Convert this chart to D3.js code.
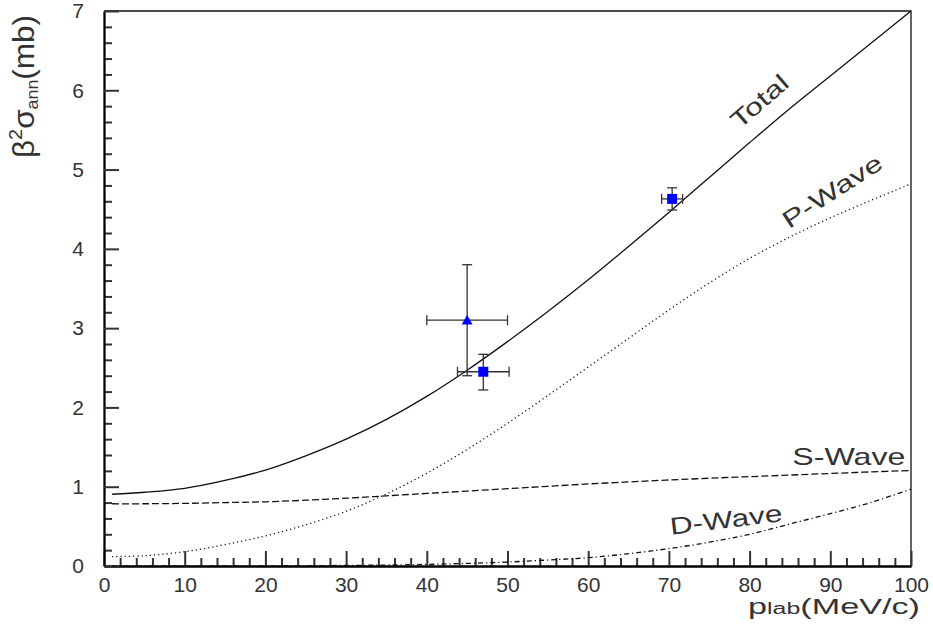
<!DOCTYPE html>
<html>
<head>
<meta charset="utf-8">
<script src="https://cdn.jsdelivr.net/npm/d3@7"></script>
<style>
  html, body { margin: 0; padding: 0; background: #fff; }
  svg { display: block; }
  text { font-family: "Liberation Sans", Arial, sans-serif; fill: #333; }
</style>
</head>
<body>
<svg id="chart" width="933" height="630"></svg>
<script>
const pLab = [1, 5, 10, 15, 20, 25, 30, 35, 40, 45, 50, 55, 60, 65, 70, 75, 80, 85, 90, 95, 100];

// beta^2 * sigma_ann (mb)
const total = [0.905, 0.93, 0.98, 1.08, 1.21, 1.39, 1.60, 1.85, 2.14, 2.47, 2.83, 3.21, 3.61, 4.03, 4.46, 4.90, 5.34, 5.77, 6.18, 6.59, 7.0];
const sWave = [0.785, 0.785, 0.79, 0.80, 0.81, 0.83, 0.855, 0.885, 0.915, 0.945, 0.975, 1.005, 1.035, 1.06, 1.085, 1.107, 1.127, 1.147, 1.167, 1.187, 1.205];
const pWave = [0.118, 0.13, 0.18, 0.27, 0.38, 0.52, 0.69, 0.91, 1.17, 1.47, 1.80, 2.15, 2.51, 2.87, 3.23, 3.57, 3.88, 4.15, 4.39, 4.61, 4.82];
const dWave = [0, 0, 0, 0.001, 0.002, 0.004, 0.007, 0.012, 0.02, 0.033, 0.05, 0.075, 0.105, 0.155, 0.22, 0.30, 0.40, 0.53, 0.66, 0.80, 0.97];

// measurements with errors
const squarePoints = [
  { x: 47, y: 2.45, xLo: 43.8, xHi: 50.2, yLo: 2.22, yHi: 2.67 },
  { x: 70.4, y: 4.63, xLo: 69.1, xHi: 71.7, yLo: 4.49, yHi: 4.77 },
];
const trianglePoints = [
  { x: 45, y: 3.1, xLo: 40, xHi: 50, yLo: 2.4, yHi: 3.8 },
];

// axis ticks
const xMajorTicks = [0, 10, 20, 30, 40, 50, 60, 70, 80, 90, 100];
const yMajorTicks = [0, 1, 2, 3, 4, 5, 6, 7];

const width = 933;
const height = 630;
const margin = { top: 11, right: 22, bottom: 64, left: 104 };

const svg = d3.select('#chart');

const x = d3.scaleLinear().domain([0, 100]).range([margin.left, width - margin.right]);
const y = d3.scaleLinear().domain([0, 7]).range([height - margin.bottom, margin.top]);

// minor divisions: 5 per major step
const xMinorTicks = d3.range(0, 101, 2).filter(d => d % 10 !== 0);
const yMinorTicks = d3.range(0, 36).map(i => i / 5).filter((d, i) => i % 5 !== 0);

// frame (top and right)
svg.append('path')
  .attr('d', `M${x(0)},${y(7)}H${x(100)}V${y(0)}`)
  .attr('fill', 'none')
  .attr('stroke', '#111')
  .attr('stroke-width', 1.3);

// inward ticks (negative size), ROOT style
function innerAxis(axis, size) {
  return (g) => {
    g.call(axis.tickSize(-size).tickSizeOuter(0));
    g.attr('font-family', null).attr('font-size', null);
    g.selectAll('.tick line').attr('stroke', '#333').attr('stroke-width', 2);
    g.selectAll('.tick text').attr('font-size', 21);
    g.select('.domain').attr('stroke', '#000').attr('stroke-width', 1.8);
  };
}

svg.append('g')
  .attr('transform', `translate(0,${y(0)})`)
  .call(innerAxis(d3.axisBottom(x).tickValues(xMinorTicks).tickFormat(() => ''), 8));
svg.append('g')
  .attr('transform', `translate(${x(0)},0)`)
  .call(innerAxis(d3.axisLeft(y).tickValues(yMinorTicks).tickFormat(() => ''), 8));
svg.append('g')
  .attr('transform', `translate(0,${y(0)})`)
  .call(innerAxis(d3.axisBottom(x).tickValues(xMajorTicks).tickPadding(11).tickFormat(d3.format('d')), 15));
svg.append('g')
  .attr('transform', `translate(${x(0)},0)`)
  .call(innerAxis(d3.axisLeft(y).tickValues(yMajorTicks).tickPadding(20).tickFormat(d3.format('d')), 15));

// axis titles
const xTitle = svg.append('text')
  .attr('x', 748)
  .attr('y', 614)
  .attr('font-size', 22)
  .attr('textLength', 172)
  .attr('lengthAdjust', 'spacingAndGlyphs');
xTitle.append('tspan').text('p');
xTitle.append('tspan').attr('font-size', 16).text('lab');
xTitle.append('tspan').text('(MeV/c)');

const yTitle = svg.append('text')
  .attr('transform', 'translate(34,15) rotate(-90)')
  .attr('text-anchor', 'end')
  .attr('font-size', 30)
  .attr('textLength', 143)
  .attr('lengthAdjust', 'spacingAndGlyphs');
yTitle.append('tspan').text('β');
yTitle.append('tspan').attr('font-size', 19).attr('dy', -12).text('2');
yTitle.append('tspan').attr('dy', 12).text('σ');
yTitle.append('tspan').attr('font-size', 17).attr('dy', 4).text('ann');
yTitle.append('tspan').attr('dy', -4).text('(mb)');

// curves
const line = d3.line()
  .x(d => x(d[0]))
  .y(d => y(d[1]))
  .curve(d3.curveCatmullRom.alpha(0.5));

const curves = [
  { values: total, dash: null },
  { values: pWave, dash: '1.2,3' },
  { values: sWave, dash: '7,3' },
  { values: dWave, dash: '5,3,1.2,3' },
];

curves.forEach((c) => {
  svg.append('path')
    .attr('d', line(d3.zip(pLab, c.values)))
    .attr('fill', 'none')
    .attr('stroke', '#111')
    .attr('stroke-width', 1.3)
    .attr('stroke-dasharray', c.dash);
});

// curve labels
const curveLabels = [
  { text: 'Total', px: 81.9, py: 5.78, angle: -41, len: 68, anchor: 'middle' },
  { text: 'P-Wave', px: 90.8, py: 4.64, angle: -33, len: 114, anchor: 'middle' },
  { text: 'S-Wave', px: 99.3, py: 1.27, angle: 0, len: 113, anchor: 'end' },
  { text: 'D-Wave', px: 77.2, py: 0.48, angle: -7, len: 113, anchor: 'middle' },
];

curveLabels.forEach((l) => {
  svg.append('text')
    .attr('transform', `translate(${x(l.px)},${y(l.py)}) rotate(${l.angle})`)
    .attr('text-anchor', l.anchor)
    .attr('font-size', 24)
    .attr('textLength', l.len)
    .attr('lengthAdjust', 'spacingAndGlyphs')
    .text(l.text);
});

// error bars
const capHalf = 5;
function drawErrors(points) {
  const g = svg.append('g').attr('stroke', '#333').attr('stroke-width', 1.3);
  points.forEach((p) => {
    g.append('line').attr('x1', x(p.xLo)).attr('x2', x(p.xHi)).attr('y1', y(p.y)).attr('y2', y(p.y));
    g.append('line').attr('x1', x(p.x)).attr('x2', x(p.x)).attr('y1', y(p.yLo)).attr('y2', y(p.yHi));
    [p.xLo, p.xHi].forEach((v) => {
      g.append('line').attr('x1', x(v)).attr('x2', x(v)).attr('y1', y(p.y) - capHalf).attr('y2', y(p.y) + capHalf);
    });
    [p.yLo, p.yHi].forEach((v) => {
      g.append('line').attr('x1', x(p.x) - capHalf).attr('x2', x(p.x) + capHalf).attr('y1', y(v)).attr('y2', y(v));
    });
  });
}
drawErrors(trianglePoints);
drawErrors(squarePoints);

// markers
svg.append('g')
  .selectAll('path')
  .data(squarePoints)
  .join('path')
  .attr('transform', d => `translate(${x(d.x)},${y(d.y)})`)
  .attr('d', d3.symbol(d3.symbolSquare, 100))
  .attr('fill', '#0000ff');

svg.append('g')
  .selectAll('path')
  .data(trianglePoints)
  .join('path')
  .attr('transform', d => `translate(${x(d.x)},${y(d.y) + 1})`)
  .attr('d', d3.symbol(d3.symbolTriangle, 52))
  .attr('fill', '#0000ff');
</script>
</body>
</html>
